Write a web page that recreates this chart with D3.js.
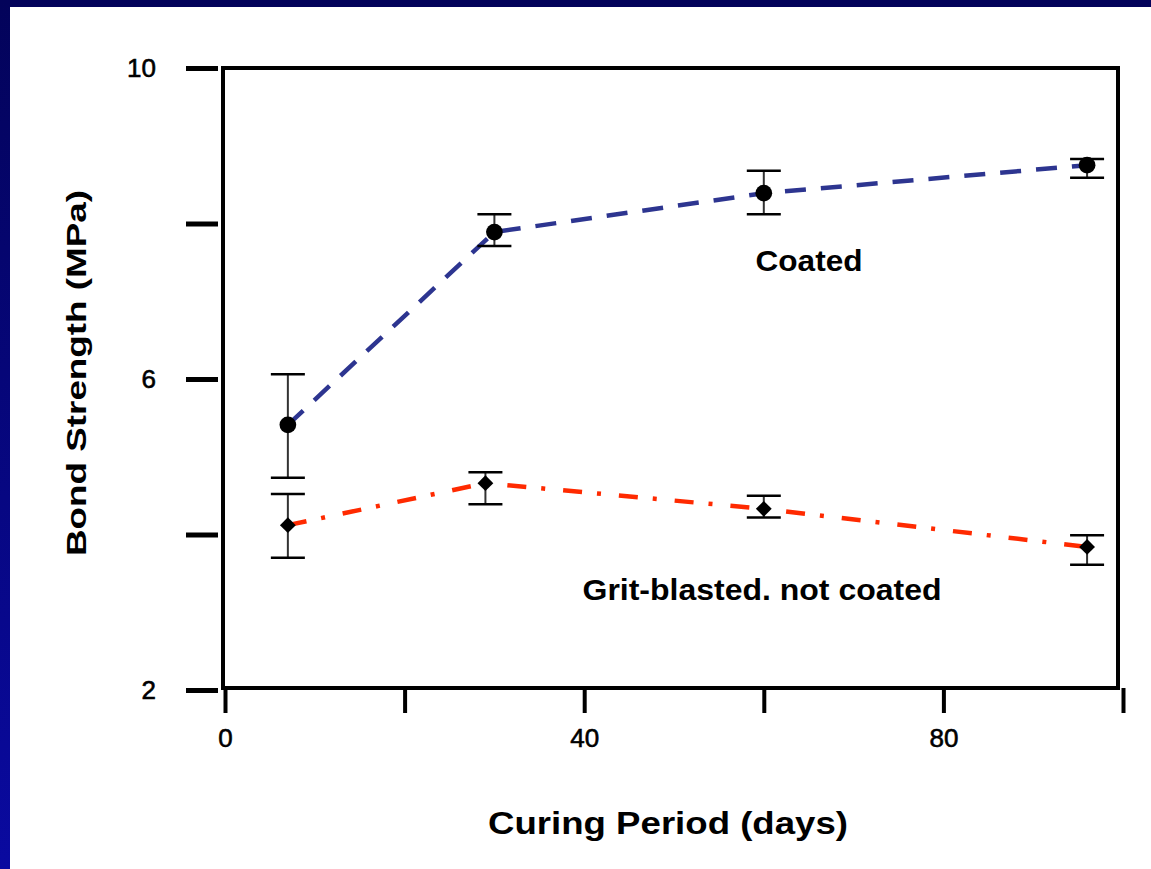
<!DOCTYPE html>
<html><head><meta charset="utf-8">
<script src="https://cdn.jsdelivr.net/npm/d3@7"></script>
<style>html,body{margin:0;padding:0;background:#fff;}svg{display:block;}</style>
</head><body>
<script>
// ---- data ----
const coatedDays = [7, 30, 60, 96];
const coatedMean = [5.41, 7.89, 8.39, 8.75];
const coatedLow  = [4.73, 7.71, 8.12, 8.59];
const coatedHigh = [6.06, 8.12, 8.68, 8.83];

const gritDays = [7, 29, 60, 96];
const gritMean = [4.12, 4.66, 4.33, 3.84];
const gritLow  = [3.70, 4.39, 4.22, 3.61];
const gritHigh = [4.52, 4.80, 4.50, 3.99];

const xTicks = [0, 20, 40, 60, 80, 100];
const xTickLabels = ["0", "", "40", "", "80", ""];
const yTicks = [2, 4, 6, 8, 10];
const yTickLabels = ["2", "", "6", "", "10"];

const W = 1151, H = 869;
const svg = d3.select("body").append("svg").attr("width", W).attr("height", H);

const defs = svg.append("defs");
const grad = defs.append("linearGradient").attr("id", "bg").attr("x1", 0).attr("y1", 0).attr("x2", 0).attr("y2", 1);
grad.append("stop").attr("offset", "0%").attr("stop-color", "#03035a");
grad.append("stop").attr("offset", "100%").attr("stop-color", "#0a0aa0");
svg.append("rect").attr("width", W).attr("height", H).attr("fill", "url(#bg)");
svg.append("rect").attr("x", 10).attr("y", 7).attr("width", W - 10).attr("height", H - 7).attr("fill", "#fff");

const x = d3.scaleLinear().domain([0, 100]).range([225, 1123]);
const y = d3.scaleLinear().domain([2, 10]).range([690, 68]);

const font = "Arial, 'Liberation Sans', sans-serif";

// frame
svg.append("path")
  .attr("d", `M223,68 H1118 V688 H223 Z`)
  .attr("fill", "none").attr("stroke", "#000").attr("stroke-width", 4);

// y axis ticks (detached)
const yAxis = d3.axisLeft(y).tickValues(yTicks).tickSize(32).tickPadding(30)
  .tickFormat((d, i) => yTickLabels[i]);
const gy = svg.append("g").attr("transform", "translate(218,0)").call(yAxis);
gy.select(".domain").remove();
gy.selectAll(".tick line").attr("stroke", "#000").attr("stroke-width", 5);
gy.selectAll(".tick text").attr("font-family", font).attr("font-size", 26).attr("fill", "#000")
  .attr("stroke", "#000").attr("stroke-width", 0.6);

// x axis
const xAxis = d3.axisBottom(x).tickValues(xTicks).tickSize(25).tickPadding(16)
  .tickFormat((d, i) => xTickLabels[i]);
const gx = svg.append("g").attr("transform", "translate(0,688)").call(xAxis);
gx.select(".domain").remove();
gx.selectAll(".tick line").attr("stroke", "#000").attr("stroke-width", 4);
gx.selectAll(".tick text").attr("font-family", font).attr("font-size", 26).attr("fill", "#000")
  .attr("stroke", "#000").attr("stroke-width", 0.6);

// axis titles
svg.append("text").attr("x", 668).attr("y", 834).attr("text-anchor", "middle")
  .attr("font-family", font).attr("font-size", 32).attr("font-weight", "bold")
  .attr("textLength", 360).attr("lengthAdjust", "spacingAndGlyphs")
  .text("Curing Period (days)");
svg.append("text").attr("transform", "translate(86,373) rotate(-90)").attr("text-anchor", "middle")
  .attr("font-family", font).attr("font-size", 28).attr("font-weight", "bold")
  .attr("textLength", 366).attr("lengthAdjust", "spacingAndGlyphs")
  .text("Bond Strength (MPa)");

// series
function series(days, mean, low, high, color, dash, marker) {
  const pts = days.map((d, i) => ({d, m: mean[i], lo: low[i], hi: high[i]}));
  svg.append("path").datum(pts)
    .attr("d", d3.line().x(p => x(p.d)).y(p => y(p.m)))
    .attr("fill", "none").attr("stroke", color).attr("stroke-width", 4.5)
    .attr("stroke-dasharray", dash);
  const g = svg.append("g").selectAll("g").data(pts).join("g");
  g.append("line").attr("x1", p => x(p.d)).attr("x2", p => x(p.d))
    .attr("y1", p => y(p.lo)).attr("y2", p => y(p.hi))
    .attr("stroke", "#333").attr("stroke-width", 2);
  ["lo", "hi"].forEach(k => {
    g.append("line").attr("x1", p => x(p.d) - 17).attr("x2", p => x(p.d) + 17)
      .attr("y1", p => y(p[k])).attr("y2", p => y(p[k]))
      .attr("stroke", "#000").attr("stroke-width", 2.5);
  });
  g.append("path")
    .attr("transform", p => `translate(${x(p.d)},${y(p.m)})` + (marker === "circle" ? "" : " rotate(45)"))
    .attr("d", d3.symbol().type(marker === "circle" ? d3.symbolCircle : d3.symbolSquare).size(marker === "circle" ? 220 : 125))
    .attr("fill", "#000");
}
series(coatedDays, coatedMean, coatedLow, coatedHigh, "#2d3590", "21 15", "circle");
series(gritDays, gritMean, gritLow, gritHigh, "#ff2a00", "19 15 4 18", "diamond");

// annotations
svg.append("text").attr("x", 809).attr("y", 271).attr("text-anchor", "middle")
  .attr("font-family", font).attr("font-size", 30).attr("font-weight", "bold")
  .attr("textLength", 107).attr("lengthAdjust", "spacingAndGlyphs").text("Coated");
svg.append("text").attr("x", 762).attr("y", 600).attr("text-anchor", "middle")
  .attr("font-family", font).attr("font-size", 30).attr("font-weight", "bold")
  .attr("textLength", 359).attr("lengthAdjust", "spacingAndGlyphs").text("Grit-blasted. not coated");
</script>
</body></html>
